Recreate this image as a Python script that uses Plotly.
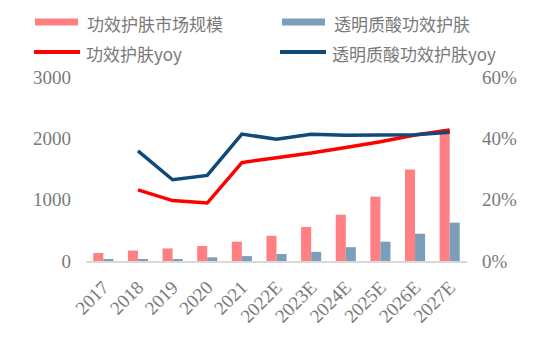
import plotly.graph_objects as go

# Categories and series
years = ["2017", "2018", "2019", "2020", "2021", "2022E", "2023E", "2024E", "2025E", "2026E", "2027E"]
market_size = [130, 170, 205, 245, 315, 410, 555, 755, 1050, 1490, 2140]
ha_size = [30, 30, 30, 60, 80, 115, 150, 225, 315, 445, 625]
market_yoy = [None, 23.2, 19.7, 18.9, 32.1, 33.7, 35.2, 37.0, 38.9, 41.1, 42.7]
ha_yoy = [None, 35.9, 26.5, 27.9, 41.4, 39.7, 41.3, 41.0, 41.0, 41.2, 42.0]

left_ticks = [0, 1000, 2000, 3000]
right_ticks = [0, 20, 40, 60]

names = ["功效护肤市场规模", "透明质酸功效护肤", "功效护肤yoy", "透明质酸功效护肤yoy"]
PINK = "#FF7F82"
STEEL = "#7B9EBB"
RED = "#FF0000"
NAVY = "#0F4A78"

SERIF = "Liberation Serif, Times New Roman, serif"
CJK = "Noto Sans CJK SC"
GREY = "#7a7a7a"

# Plot area in pixels
W, H = 533, 338
L, R, T, B = 86, 66, 77, 77
PW, PH = W - L - R, H - T - B

fig = go.Figure()
fig.add_trace(go.Bar(x=years, y=market_size, name=names[0], marker_color=PINK,
                     marker_line_width=0))
fig.add_trace(go.Bar(x=years, y=ha_size, name=names[1], marker_color=STEEL,
                     marker_line_width=0))
fig.add_trace(go.Scatter(x=years, y=market_yoy, name=names[2], yaxis="y2",
                         mode="lines", line=dict(color=RED, width=3.5)))
fig.add_trace(go.Scatter(x=years, y=ha_yoy, name=names[3], yaxis="y2",
                         mode="lines", line=dict(color=NAVY, width=3.5)))

fig.update_layout(
    width=W, height=H,
    margin=dict(l=L, r=R, t=T, b=B),
    paper_bgcolor="white", plot_bgcolor="white",
    showlegend=False,
    barmode="group", bargap=0.42, bargroupgap=0,
    xaxis=dict(
        type="category", tickangle=-45, showgrid=False,
        showline=True, linecolor="#d9d9d9", linewidth=1.5,
        ticks="", ticklabelstandoff=6,
        tickfont=dict(family=SERIF, size=19, color=GREY),
    ),
    yaxis=dict(
        range=[0, 3000], tickvals=left_ticks, showgrid=False, zeroline=False,
        showline=False, ticks="", ticklabelstandoff=14,
        tickfont=dict(family=SERIF, size=19, color=GREY),
    ),
    yaxis2=dict(
        range=[0, 60], tickvals=right_ticks,
        ticktext=[f"{v}%" for v in right_ticks],
        overlaying="y", side="right", showgrid=False, zeroline=False,
        showline=False, ticks="", ticklabelstandoff=14,
        tickfont=dict(family=SERIF, size=19, color=GREY),
    ),
)

# Legend drawn as swatches plus labels, two columns by two rows
legend_items = [
    (names[0], PINK, "rect", 35, 22),
    (names[1], STEEL, "rect", 282, 22),
    (names[2], RED, "line", 34, 52),
    (names[3], NAVY, "line", 280, 52),
]


def px_x(x):
    return (x - L) / PW


def px_y(y):
    return (H - B - y) / PH


for label, color, kind, x0, yc in legend_items:
    if kind == "rect":
        fig.add_shape(type="rect", xref="paper", yref="paper",
                      x0=px_x(x0), x1=px_x(x0 + 43),
                      y0=px_y(yc + 3.5), y1=px_y(yc - 3.5),
                      fillcolor=color, line_width=0)
    else:
        fig.add_shape(type="line", xref="paper", yref="paper",
                      x0=px_x(x0), x1=px_x(x0 + 46),
                      y0=px_y(yc), y1=px_y(yc),
                      line=dict(color=color, width=4))
    fig.add_annotation(xref="paper", yref="paper",
                       x=px_x(x0 + 50), y=px_y(yc + 1), text=label,
                       showarrow=False, xanchor="left", yanchor="middle",
                       font=dict(family=CJK, size=17, color=GREY))

fig.write_html("out.html")
